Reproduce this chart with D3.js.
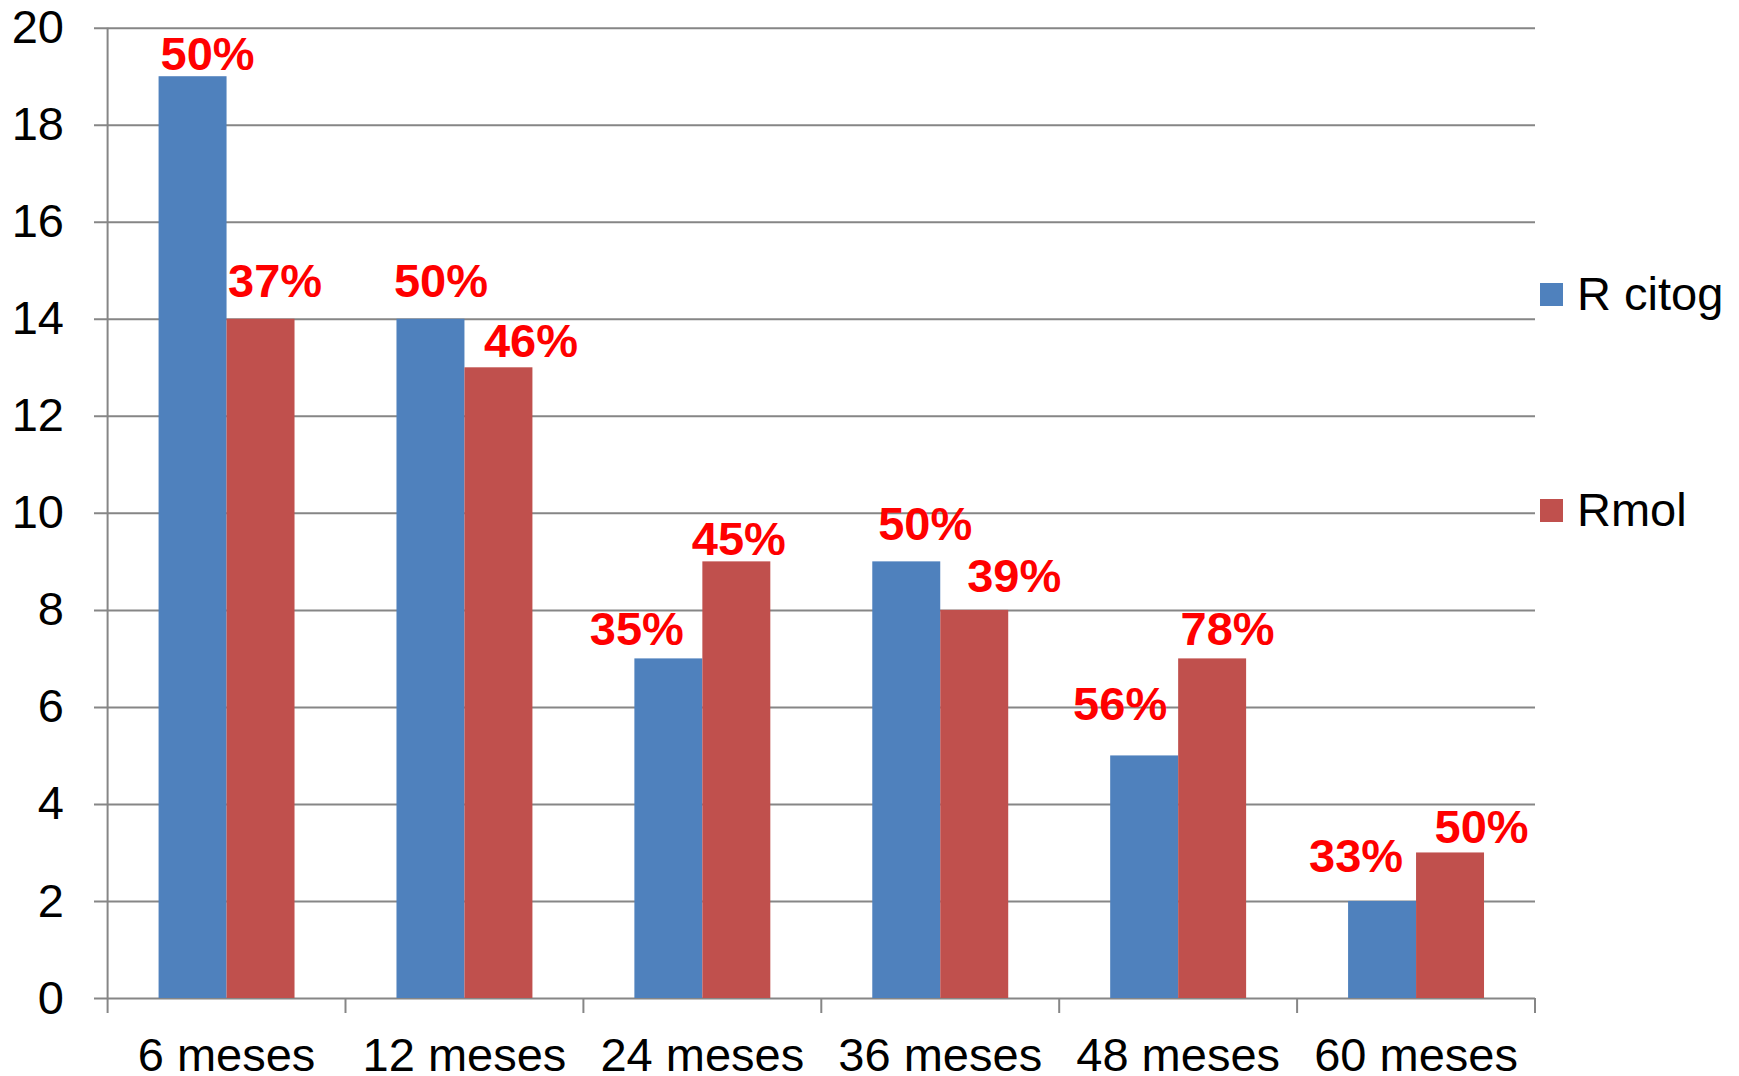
<!DOCTYPE html>
<html>
<head>
<meta charset="utf-8">
<script src="https://cdn.jsdelivr.net/npm/d3@7"></script>
<style>
  html, body { margin: 0; padding: 0; background: #fff; }
  svg { display: block; font-family: "Liberation Sans", Arial, sans-serif; }
</style>
</head>
<body>
<svg id="chart" width="1739" height="1076"></svg>
<script>
// Chart data
const categories = ["6 meses", "12 meses", "24 meses", "36 meses", "48 meses", "60 meses"];
const seriesNames = ["R citog", "Rmol"];
const rCitog = [19, 14, 7, 9, 5, 2];
const rMol = [14, 13, 9, 8, 7, 3];
const pctCitog = ["50%", "50%", "35%", "50%", "56%", "33%"];
const pctMol = ["37%", "46%", "45%", "39%", "78%", "50%"];
const yTicks = [0, 2, 4, 6, 8, 10, 12, 14, 16, 18, 20];

// Styling
const colors = ["#4F81BD", "#C0504D"];
const gridColor = "#868686";
const fontSize = 47;

// Hand-placed label nudges [dx from bar centre, baseline offset from bar top]
const labelNudge = [
  [[15, -6.5], [14.5, -22]],
  [[10.5, -22], [32.5, -10.5]],
  [[-31.5, -13.5], [2.5, -6.5]],
  [[19, -21.5], [40, -18]],
  [[-24, -35.5], [15.5, -13.5]],
  [[-26, -29], [31.5, -9.5]]
];

const svg = d3.select("#chart");
const plot = { left: 107.6, right: 1535, top: 27.7, bottom: 998 };

const x = d3.scaleBand().domain(categories).range([plot.left, plot.right]).padding(0);
const xs = d3.scaleBand().domain(seriesNames).range([0, x.bandwidth()])
  .paddingInner(0).paddingOuter(0.75);
const y = d3.scaleLinear().domain([0, 20]).range([plot.bottom, plot.top]);

// Horizontal gridlines plus y tick labels
const yAxis = d3.axisLeft(y).tickValues(yTicks)
  .tickSize(plot.right - 94).tickPadding(30).tickFormat(d3.format("d"));
const gy = svg.append("g").attr("transform", `translate(${plot.right},0)`).call(yAxis);
gy.select(".domain").remove();
gy.selectAll(".tick line").attr("stroke", gridColor).attr("stroke-width", 2);
gy.selectAll(".tick text").attr("fill", "#000").attr("font-size", fontSize)
  .attr("font-family", "Liberation Sans, Arial, sans-serif");

// Vertical axis line
svg.append("line")
  .attr("x1", plot.left).attr("x2", plot.left)
  .attr("y1", plot.top).attr("y2", plot.bottom)
  .attr("stroke", gridColor).attr("stroke-width", 2);

// Category boundary ticks
const bounds = categories.map(c => x(c)).concat([plot.right]);
svg.append("g").selectAll("line").data(bounds).join("line")
  .attr("x1", d => d).attr("x2", d => d)
  .attr("y1", plot.bottom).attr("y2", plot.bottom + 15)
  .attr("stroke", gridColor).attr("stroke-width", 2);

// Category labels
const xAxis = d3.axisBottom(x).tickSize(0).tickPadding(39.5);
const gx = svg.append("g").attr("transform", `translate(0,${plot.bottom})`).call(xAxis);
gx.select(".domain").remove();
gx.selectAll(".tick text").attr("fill", "#000").attr("font-size", fontSize)
  .attr("font-family", "Liberation Sans, Arial, sans-serif");

// Bars
const rows = categories.map((c, i) => ({
  cat: c, i,
  vals: [
    { s: seriesNames[0], v: rCitog[i], lbl: pctCitog[i], k: 0 },
    { s: seriesNames[1], v: rMol[i], lbl: pctMol[i], k: 1 }
  ]
}));

const groups = svg.append("g").selectAll("g").data(rows).join("g")
  .attr("transform", d => `translate(${x(d.cat)},0)`);

groups.selectAll("rect").data(d => d.vals).join("rect")
  .attr("x", d => xs(d.s))
  .attr("width", xs.bandwidth())
  .attr("y", d => y(d.v))
  .attr("height", d => y(0) - y(d.v))
  .attr("fill", d => colors[d.k]);

// Percentage labels
groups.selectAll("text.pct").data(d => d.vals.map(v => ({ ...v, i: d.i }))).join("text")
  .attr("class", "pct")
  .attr("x", d => xs(d.s) + xs.bandwidth() / 2 + labelNudge[d.i][d.k][0])
  .attr("y", d => y(d.v) + labelNudge[d.i][d.k][1])
  .attr("text-anchor", "middle")
  .attr("font-size", fontSize)
  .attr("font-weight", "bold")
  .attr("fill", "#FF0000")
  .text(d => d.lbl);

// Legend
const legendY = [283, 499];
const legend = svg.append("g").selectAll("g").data(seriesNames).join("g")
  .attr("transform", (d, i) => `translate(1540,${legendY[i]})`);
legend.append("rect").attr("width", 23).attr("height", 23)
  .attr("fill", (d, i) => colors[i]);
legend.append("text").attr("x", 37).attr("y", 26.5)
  .attr("font-size", fontSize).attr("fill", "#000")
  .text(d => d);
</script>
</body>
</html>
